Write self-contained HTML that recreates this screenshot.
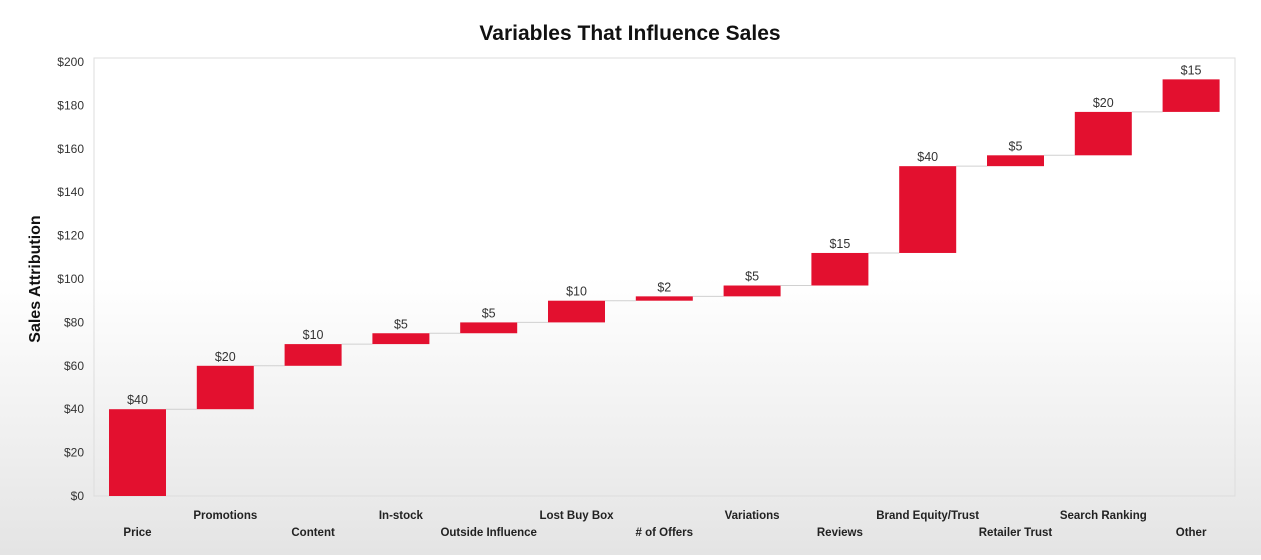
<!DOCTYPE html>
<html><head><meta charset="utf-8"><style>
html,body{margin:0;padding:0}
body{width:1261px;height:555px;overflow:hidden;background:linear-gradient(#fff 0%,#fff 50%,#e4e4e4 100%);font-family:"Liberation Sans",sans-serif}
</style></head><body>
<svg id="chart" width="1261" height="555" xmlns="http://www.w3.org/2000/svg">
<text x="630" y="40" text-anchor="middle" font-size="21" font-weight="bold" fill="#111">Variables That Influence Sales</text>
<text transform="translate(40,279) rotate(-90)" text-anchor="middle" font-size="16" font-weight="bold" fill="#111">Sales Attribution</text>
<rect x="94" y="58" width="1141" height="438" fill="none" stroke="#ddd" stroke-width="1"/>
<g id="grid"></g><g id="bars"></g>
</svg>
<script>
const categories=["Price","Promotions","Content","In-stock","Outside Influence","Lost Buy Box","# of Offers","Variations","Reviews","Brand Equity/Trust","Retailer Trust","Search Ranking","Other"];
const values=[40,20,10,5,5,10,2,5,15,40,5,20,15];
const yTicks=[0,20,40,60,80,100,120,140,160,180,200];
const NS="http://www.w3.org/2000/svg";
const svg=document.getElementById('chart');
const y0=496,y1=62;
function yScale(v){return y0-(v/200)*(y0-y1);}
function xScale(i){return 109+i*87.8;}
const bw=57;
function mk(t,a,txt){const e=document.createElementNS(NS,t);for(const k in a)e.setAttribute(k,a[k]);if(txt!==undefined)e.textContent=txt;svg.appendChild(e);return e;}
yTicks.forEach(t=>{
 const e=mk('text',{x:84,y:yScale(t)+4,'text-anchor':'end','font-size':12,fill:'#333'},'$'+t);
 
 
});
let cum=0;
values.forEach((v,i)=>{
 const x=xScale(i),top=yScale(cum+v),bot=yScale(cum);
 if(i<values.length-1){
  const l=mk('line',{x1:x+bw,x2:xScale(i+1),y1:top,y2:top,stroke:'#d0d0d0','stroke-width':1});
  
  
 }
 const r=mk('rect',{x:x,y:top,width:bw,height:Math.max(1,bot-top),fill:'#e3102f'});
 
 
 const t=mk('text',{x:x+bw/2,y:top-5,'text-anchor':'middle','font-size':12.5,fill:'#333'},'$'+v);
 
 
 const c=mk('text',{x:x+bw/2,y:i%2===0?536:519,'text-anchor':'middle','font-size':11.5,'font-weight':'bold',fill:'#222'},categories[i]);
 
 
 cum+=v;
});
</script>
</body></html>
